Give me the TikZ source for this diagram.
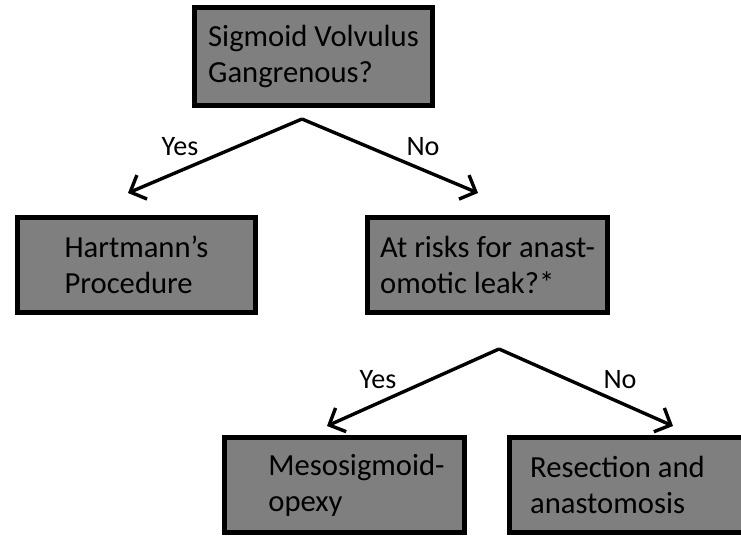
\documentclass[tikz,border=0pt]{standalone}
\usepackage{fontspec}
\setmainfont{Carlito}
\usepackage{tikz}
\usetikzlibrary{arrows.meta}
\definecolor{boxgray}{HTML}{7F7F7F}
\newcommand{\flowfont}{\fontsize{21.8pt}{25.6pt}\selectfont}
\newcommand{\branchfont}{\fontsize{20pt}{24pt}\selectfont}
\tikzstyle{box} = [rectangle, minimum width=6cm, minimum height=2.375cm, align=left, draw=black, line width=0.125cm, fill=boxgray, font=\flowfont]
\tikzstyle{arrow} = [line width=0.085cm, -{Straight Barb[length=0.32cm, width=0.65cm]}]
\tikzstyle{branch} = [font=\branchfont, inner sep=0pt]

\begin{document}
\begin{tikzpicture}[x=0.025cm, y=-0.025cm] % 1 unit = 1 px of the reference
\clip (0,0) rectangle (741,537);
\node (gangrene) [box, minimum width=5.95cm, minimum height=2.45cm] at (313.5,56.5) {Sigmoid Volvulus\\Gangrenous?};
\node (hartmann) [box, minimum width=5.95cm] at (136.5,265) {Hartmann’s\\Procedure};
\node (leak) [box] at (487.5,265) {At risks for anast-\\omotic leak?*};
\node (pexy) [box] at (344.5,485) {\hspace*{0.6cm}Mesosigmoid-\\\hspace*{0.6cm}opexy};
\node (resect) [box] at (629.5,485) {Resection and\hspace*{0.6cm}\\anastomosis};
% split points and arrow ends
\coordinate (split1) at (302,119);
\coordinate (split2) at (499,349);
\coordinate (to hartmann) at (128,193);
\coordinate (to leak) at (478,193);
\coordinate (to pexy) at (327,426);
\coordinate (to resect) at (673,426);
\draw [arrow] (split1) -- (to hartmann);
\draw [arrow] (split1) -- (to leak);
\draw [arrow] (split2) -- (to pexy);
\draw [arrow] (split2) -- (to resect);
\node (yes1) [branch] at (180,147) {Yes};
\node (no1) [branch] at (423,147) {No};
\node (yes2) [branch] at (378,380) {Yes};
\node (no2) [branch] at (620,380) {No};
\end{tikzpicture}
\end{document}
